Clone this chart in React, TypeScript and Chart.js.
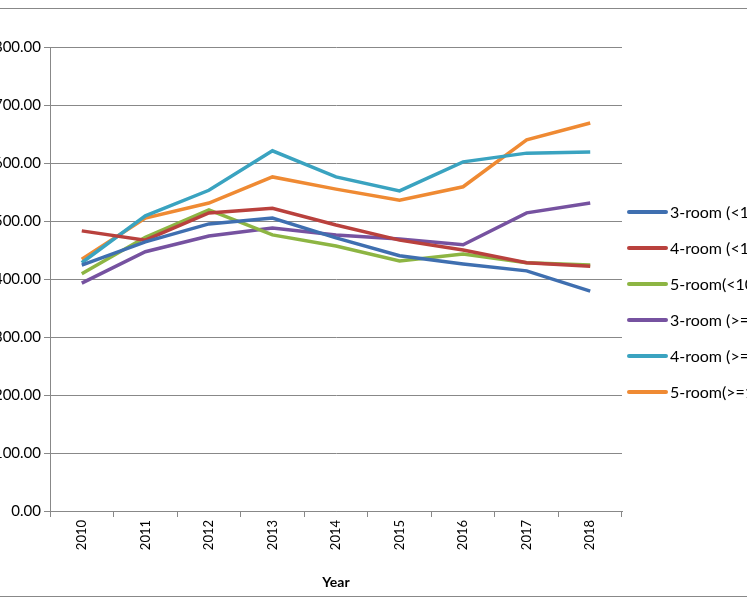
import React, { useEffect, useRef } from "react";
import { Chart, registerables } from "chart.js";
Chart.register(...registerables);

const years = ["2010", "2011", "2012", "2013", "2014", "2015", "2016", "2017", "2018"];
const room3Under = [424, 464, 495, 505, 471, 440, 426, 414, 379];
const room4Under = [483, 467, 514, 522, 493, 467, 450, 428, 422];
const room5Under = [409, 472, 519, 476, 457, 431, 443, 428, 424];
const room3Over = [393, 447, 474, 488, 476, 469, 459, 514, 531];
const room4Over = [428, 509, 553, 621, 576, 552, 602, 617, 619];
const room5Over = [434, 505, 531, 576, 555, 536, 559, 640, 669];
const seriesNames = ["3-room (<10 years)", "4-room (<10 years)", "5-room(<10 years)", "3-room (>=10 years)", "4-room (>=10 years)", "5-room(>=10 years)"];
const colors = ["#3F6FB0", "#B9413D", "#8DB543", "#7652A0", "#3AA3C0", "#EF8A33"];
const font = "Lato, 'Open Sans', sans-serif";

export default function App() {
  const ref = useRef<HTMLCanvasElement>(null);
  useEffect(() => {
    const series = [room3Under, room4Under, room5Under, room3Over, room4Over, room5Over];
    const chart = new Chart(ref.current!, {
      type: "line",
      data: {
        labels: years,
        datasets: series.map((d, i) => ({
          label: seriesNames[i], data: d, borderColor: colors[i], backgroundColor: colors[i],
          borderWidth: 3.5, pointRadius: 0, tension: 0,
        })),
      },
      options: {
        animation: false, responsive: false,
        layout: { padding: { top: 37, right: 28, bottom: 0, left: 0 } },
        plugins: { legend: { display: false }, tooltip: { enabled: false } },
        scales: {
          x: {
            offset: true,
            grid: { offset: true, drawOnChartArea: false, color: "#888", tickLength: 6 },
            border: { color: "#888" },
            ticks: { color: "#000", font: { family: font, size: 13 }, minRotation: 90, maxRotation: 90 },
            title: { display: true, text: "Year", color: "#000", font: { family: font, size: 14, weight: "bold" }, padding: { top: 0 } },
            afterFit: (s: any) => { s.height = 84; },
          },
          y: {
            min: 0, max: 800,
            ticks: { stepSize: 100, color: "#000", font: { family: font, size: 15 }, callback: (v: any) => Number(v).toFixed(2) },
            grid: { color: "#888", tickLength: 6 },
            border: { color: "#888" },
            afterFit: (s: any) => { s.width = 110; },
          },
        },
      },
    });
    return () => chart.destroy();
  }, []);
  return (
    <div style={{ position: "fixed", left: 0, top: 0, width: 747, height: 598, overflow: "hidden", background: "#fff" }}>
      <div style={{ position: "absolute", left: -10, top: 8, width: 900, height: 587, border: "1px solid #888" }} />
      <canvas ref={ref} width={710} height={585} style={{ position: "absolute", left: -60, top: 10, width: 710, height: 585 }} />
      {seriesNames.map((n, i) => (
        <div key={n} style={{ position: "absolute", left: 627, top: 202 + i * 36, whiteSpace: "nowrap", fontFamily: font, fontSize: 16, display: "flex", alignItems: "center" }}>
          <span style={{ display: "inline-block", width: 41, height: 4, borderRadius: 2, background: colors[i], marginRight: 2 }} />
          {n}
        </div>
      ))}
    </div>
  );
}
